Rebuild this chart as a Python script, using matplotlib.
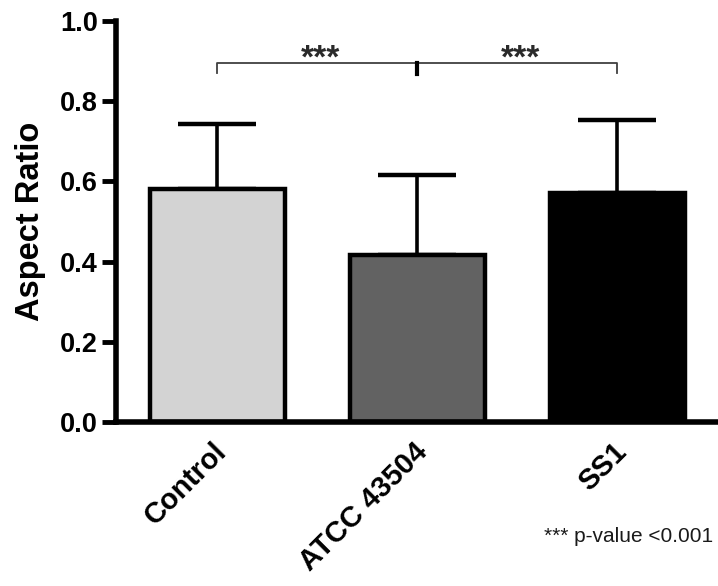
import matplotlib.pyplot as plt
import matplotlib.transforms as mtransforms

# Group means and SD (upper error only)
grupos = ["Control", "ATCC 43504", "SS1"]
medias = [0.581, 0.416, 0.571]
desv = [0.162, 0.200, 0.182]
colores = ["#d3d3d3", "#626262", "#000000"]

# Significance brackets: (group a, group b, label)
comparaciones = [(0, 1, "***"), (1, 2, "***")]
altura_barra = 0.895

plt.rcParams['font.family'] = ['Liberation Sans', 'DejaVu Sans']

fig = plt.figure(figsize=(7.18, 5.86), dpi=100)
ax = fig.add_axes([0.1616, 0.2799, 0.8384, 0.6843])

x = range(len(grupos))
ax.bar(x, medias, width=0.675, color=colores, edgecolor="black",
       linewidth=3.2, zorder=2)
ax.errorbar(x, medias, yerr=[[0] * len(desv), desv], fmt="none",
            ecolor="black", elinewidth=2.6, capsize=28, capthick=3.2, zorder=1)

# Brackets
for a, b, txt in comparaciones:
    ax.plot([a, a, b, b], [altura_barra - 0.025, altura_barra, altura_barra, altura_barra - 0.025],
            color="#404040", linewidth=1.3)
    ax.text((a + b) / 2 + 0.02, altura_barra - 0.028, txt, ha="center", va="bottom",
            fontsize=24, fontweight="bold", color="#2a2a2a")
# middle tick a bit heavier
ax.plot([1, 1], [altura_barra - 0.027, altura_barra], color="black", linewidth=3)

ax.set_xlim(-0.505, 2.505)
ax.set_ylim(0, 1.0)
ax.set_yticks([0.0, 0.2, 0.4, 0.6, 0.8, 1.0])
ax.set_yticklabels(["0.0", "0.2", "0.4", "0.6", "0.8", "1.0"], fontsize=19.5,
                   fontweight="bold")
ax.set_xticks(list(x))
ax.set_xticklabels(grupos, rotation=45, ha="right", rotation_mode="anchor",
                   fontsize=21, fontweight="bold")
ax.tick_params(axis="y", length=10, width=3.5, pad=3)
ax.tick_params(axis="x", length=0, pad=11)
desplaza = mtransforms.ScaledTranslation(-3 / 72, 0, fig.dpi_scale_trans)
for lbl in ax.get_xticklabels():
    lbl.set_transform(lbl.get_transform() + desplaza)

ax.set_ylabel("Aspect Ratio", fontsize=23.5, fontweight="bold", labelpad=10)

ax.spines["top"].set_visible(False)
ax.spines["right"].set_visible(False)
ax.spines["left"].set_linewidth(4)
ax.spines["bottom"].set_linewidth(4)

fig.text(0.993, 0.085, "*** p-value <0.001", ha="right", va="center",
         fontsize=15, color="#1a1a1a")

plt.savefig("out.png", dpi=100)
